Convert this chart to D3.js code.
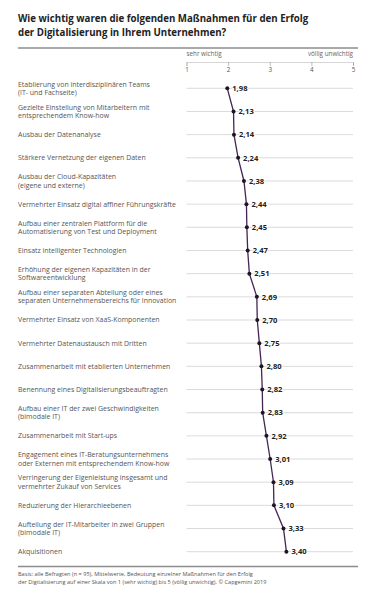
<!DOCTYPE html>
<html lang="de">
<head>
<meta charset="UTF-8">
<title>Maßnahmen Digitalisierung</title>
<script src="https://cdn.jsdelivr.net/npm/d3@7"></script>
<style>
  body { margin: 0; background: #fff; }
  svg { display: block; font-family: "Open Sans", sans-serif; }
</style>
</head>
<body>
<div id="chart"></div>
<script>
    // Data
    const measures = [
        ["Etablierung von interdisziplinären Teams", "(IT- und Fachseite)"],
        ["Gezielte Einstellung von Mitarbeitern mit", "entsprechendem Know-how"],
        ["Ausbau der Datenanalyse"],
        ["Stärkere Vernetzung der eigenen Daten"],
        ["Ausbau der Cloud-Kapazitäten", "(eigene und externe)"],
        ["Vermehrter Einsatz digital affiner Führungskräfte"],
        ["Aufbau einer zentralen Plattform für die", "Automatisierung von Test und Deployment"],
        ["Einsatz intelligenter Technologien"],
        ["Erhöhung der eigenen Kapazitäten in der", "Softwareentwicklung"],
        ["Aufbau einer separaten Abteilung oder eines", "separaten Unternehmensbereichs für Innovation"],
        ["Vermehrter Einsatz von XaaS-Komponenten"],
        ["Vermehrter Datenaustausch mit Dritten"],
        ["Zusammenarbeit mit etablierten Unternehmen"],
        ["Benennung eines Digitalisierungsbeauftragten"],
        ["Aufbau einer IT der zwei Geschwindigkeiten", "(bimodale IT)"],
        ["Zusammenarbeit mit Start-ups"],
        ["Engagement eines IT-Beratungsunternehmens", "oder Externen mit entsprechendem Know-how"],
        ["Verringerung der Eigenleistung insgesamt und", "vermehrter Zukauf von Services"],
        ["Reduzierung der Hierarchieebenen"],
        ["Aufteilung der IT-Mitarbeiter in zwei Gruppen", "(bimodale IT)"],
        ["Akquisitionen"]
    ];
    const means = [1.98, 2.13, 2.14, 2.24, 2.38, 2.44, 2.45, 2.47, 2.51, 2.69, 2.70,
                   2.75, 2.80, 2.82, 2.83, 2.92, 3.01, 3.09, 3.10, 3.33, 3.40];
    const ticks = [1, 2, 3, 4, 5];
    const scaleEnds = ["sehr wichtig", "völlig unwichtig"];
    const title = ["Wie wichtig waren die folgenden Maßnahmen für den Erfolg",
                   "der Digitalisierung in Ihrem Unternehmen?"];
    const source = ["Basis: alle Befragten (n = 95), Mittelwerte, Bedeutung einzelner Maßnahmen für den Erfolg",
                    "der Digitalisierung auf einer Skala von 1 (sehr wichtig) bis 5 (völlig unwichtig), © Capgemini 2019"];

    const width = 376, height = 600;
    const left = 18, right = 358;
    const fmt = v => v.toFixed(2).replace(".", ",");

    const svg = d3.select("#chart").append("svg")
        .attr("width", width)
        .attr("height", height);

    const x = d3.scaleLinear().domain([1, 5]).range([186.5, 353]);
    const y = d3.scalePoint().domain(d3.range(measures.length)).range([88.3, 551.7]);

    // Title
    svg.append("text")
        .attr("x", left).attr("y", 21.5)
        .attr("font-size", 9.7).attr("font-weight", 700).attr("fill", "#222")
        .selectAll("tspan").data(title).join("tspan")
        .attr("x", left).attr("dy", (d, i) => i ? 14.5 : 0)
        .text(d => d);

    // separators
    svg.append("line").attr("x1", left).attr("x2", right).attr("y1", 48).attr("y2", 48)
        .attr("stroke", "#8c8c8c").attr("stroke-width", 1.5);
    svg.append("line").attr("x1", left).attr("x2", right).attr("y1", 566.5).attr("y2", 566.5)
        .attr("stroke", "#8c8c8c").attr("stroke-width", 1.5);

    // Axis on top
    const axis = svg.append("g")
        .attr("transform", "translate(0,62)")
        .call(d3.axisBottom(x).tickValues(ticks).tickSize(4).tickPadding(2).tickFormat(d => d));
    axis.select(".domain").attr("stroke", "#bbb").attr("stroke-width", 0.6);
    axis.selectAll(".tick line").attr("stroke", "#999").attr("stroke-width", 0.6);
    axis.selectAll(".tick text").attr("font-size", 6.3).attr("fill", "#555")
        .attr("font-family", "'Open Sans', sans-serif");

    svg.selectAll(".scaleEnd").data(scaleEnds).join("text")
        .attr("class", "scaleEnd")
        .attr("x", (d, i) => i ? x(5) : x(1))
        .attr("y", 56)
        .attr("text-anchor", (d, i) => i ? "end" : "start")
        .attr("font-size", 6.3).attr("fill", "#666")
        .text(d => d);

    // row grid lines
    svg.append("g").selectAll("line").data(means).join("line")
        .attr("x1", x(1)).attr("x2", x(5))
        .attr("y1", (d, i) => y(i)).attr("y2", (d, i) => y(i))
        .attr("stroke", "#cccccc").attr("stroke-width", 0.7);

    // row labels
    svg.append("g").selectAll("text").data(measures).join("text")
        .attr("x", left)
        .attr("y", (d, i) => y(i) + 2.4 - (d.length - 1) * 4.2)
        .attr("font-size", 6.95).attr("fill", "#555")
        .selectAll("tspan").data(d => d).join("tspan")
        .attr("x", left).attr("dy", (d, i) => i ? 8.4 : 0)
        .text(d => d);

    // connecting line
    svg.append("path")
        .datum(means)
        .attr("fill", "none")
        .attr("stroke", "#452552")
        .attr("stroke-width", 1.3)
        .attr("d", d3.line().x(d => x(d)).y((d, i) => y(i)));

    svg.append("g").selectAll("circle").data(means).join("circle")
        .attr("cx", d => x(d)).attr("cy", (d, i) => y(i)).attr("r", 2)
        .attr("fill", "#1e1424");

    svg.append("g").selectAll("text").data(means).join("text")
        .attr("x", d => x(d) + 5)
        .attr("y", (d, i) => y(i) + 2.7)
        .attr("font-size", 7.6).attr("font-weight", 700).attr("fill", "#222")
        .attr("stroke", "#fff").attr("stroke-width", 2).attr("paint-order", "stroke")
        .text(d => fmt(d));

    // source note
    svg.append("text")
        .attr("font-size", 5.6).attr("fill", "#555")
        .selectAll("tspan").data(source).join("tspan")
        .attr("x", left).attr("y", (d, i) => 575.5 + i * 8.5)
        .text(d => d);
</script>
</body>
</html>
